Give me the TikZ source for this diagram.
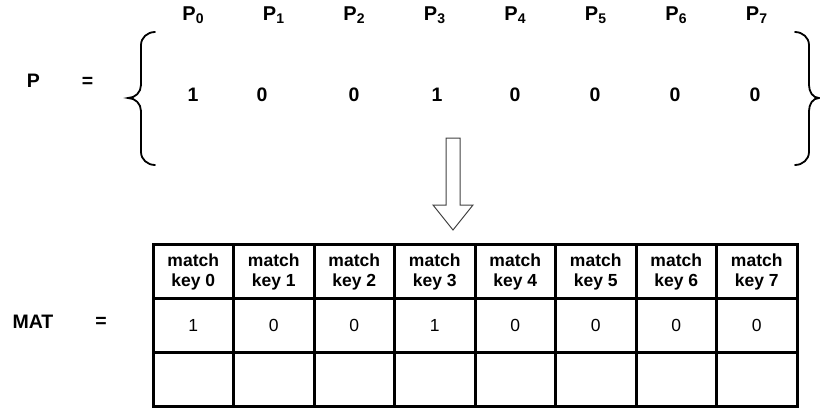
\documentclass[tikz,border=0pt]{standalone}
\usepackage{fontspec}
\setmainfont{Liberation Sans}
\usetikzlibrary{calc}

\begin{document}
\begin{tikzpicture}[x=1pt, y=-1pt,
    cell/.style={draw, line width=3pt, minimum width=80.5pt, minimum height=53.7pt,
      inner sep=0pt, align=center, font=\fontsize{17.5}{20.5}\selectfont},
    head/.style={cell, font=\bfseries\fontsize{17.5}{20.5}\selectfont},
    bit/.style={inner sep=0pt, font=\bfseries\fontsize{19.5}{22}\selectfont},
    brace/.style={line width=1.8pt, line cap=round}]
    \useasboundingbox (0,0) rectangle (820,410);

    % vector P
    \node[bit] (Plbl) at (33.5,81) {P};
    \node[bit] (Peq) at (87.5,82) {=};
    \foreach \i/\x/\v in {0/193/1, 1/262/0, 2/354/0, 3/437/1, 4/515/0, 5/595/0, 6/675/0, 7/755/0} {
        \node[bit, font=\bfseries\fontsize{20}{22}\selectfont] (p\i) at ({193.25+80.5*\i},15) {P\textsubscript{\i}};
        \node[bit] (b\i) at (\x,95) {\v};
    }
    \draw[brace] (155,32) to[out=180,in=90] (141,45) -- (141,85)
        to[out=-90,in=0] (128,98) to[out=0,in=90] (141,111) -- (141,152)
        to[out=-90,in=180] (155,165);
    \draw[brace] (795,32) to[out=0,in=90] (809,45) -- (809,85)
        to[out=-90,in=180] (819,98) to[out=180,in=90] (809,111) -- (809,152)
        to[out=-90,in=0] (795,165);

    % block arrow
    \coordinate (tip) at (453,230);
    \draw[line width=1pt, black!75, line join=miter]
        ($(tip)+(-7,-92)$) -- ($(tip)+(7,-92)$) -- ($(tip)+(7,-25)$) -- ($(tip)+(20,-25)$)
        -- (tip) -- ($(tip)+(-20,-25)$) -- ($(tip)+(-7,-25)$) -- cycle;

    % matrix MAT
    \node[bit] (Mlbl) at (33,322) {MAT};
    \node[bit] (Meq) at (101,322) {=};
    \foreach \i/\v in {0/1, 1/0, 2/0, 3/1, 4/0, 5/0, 6/0, 7/0} {
        \node[head] (h\i) at ({193.25+80.5*\i},271.8) {match\\key \i};
        \node[cell] (v\i) at ({193.25+80.5*\i},325.5) {\v};
        \node[cell] (e\i) at ({193.25+80.5*\i},379.2) {};
    }
\end{tikzpicture}
\end{document}
